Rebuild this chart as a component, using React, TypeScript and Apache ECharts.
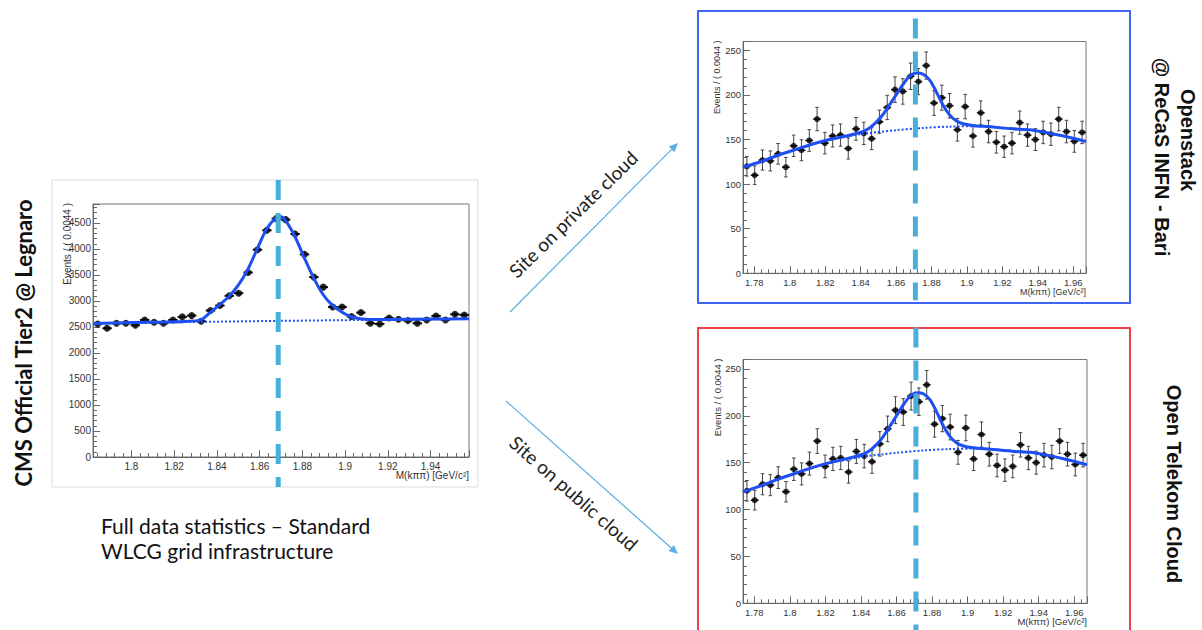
import { useEffect, useRef } from "react";
import * as echarts from "echarts";

// ---------- data ----------
const BIN_WIDTH = 0.0044;
const X_TICK_STEP = 0.02;

// Left plot: CMS Official Tier2 @ Legnaro (full statistics)
const leftXRange = [1.782, 1.958];
const leftYMax = 4865;
const leftYStep = 500;
const leftCounts = [
  2559, 2475, 2571, 2571, 2533, 2636, 2591, 2571, 2636, 2694, 2719, 2610, 2816, 2912,
  3099, 3150, 3549, 3986, 4359, 4584, 4564, 4288, 3896, 3459, 3266, 2886, 2886, 2700,
  2777, 2571, 2559, 2674, 2649, 2623, 2571, 2636, 2713, 2636, 2745, 2732,
];
const leftFitX = [
  1.782, 1.8, 1.815, 1.825, 1.8324, 1.8369, 1.8412, 1.8456, 1.8501, 1.8544, 1.8587,
  1.8632, 1.8676, 1.8695, 1.8719, 1.8764, 1.8807, 1.8851, 1.8896, 1.8939, 1.8984,
  1.9027, 1.9071, 1.9116, 1.92, 1.94, 1.958,
];
const leftFitY = [
  2565, 2585, 2596, 2606, 2636, 2780, 2925, 3086, 3311, 3600, 3986, 4380, 4600, 4625,
  4560, 4250, 3850, 3460, 3130, 2925, 2790, 2700, 2660, 2645, 2645, 2652, 2660,
];
const leftBkgX = [1.782, 1.87, 1.958];
const leftBkgY = [2570, 2618, 2655];
const leftPeakLine = [1.8687];

// Right plots: Openstack @ ReCaS / Open Telekom Cloud (same result)
const rightXRange = [1.7736, 1.9672];
const rightYMax = 260;
const rightYStep = 50;
const rightCounts = [
  120, 110, 127, 126, 134, 119, 143, 138, 149, 173, 146, 154, 155, 140, 162, 157, 151,
  170, 186, 206, 204, 221, 215, 233, 191, 197, 188, 161, 187, 154, 180, 159, 147, 142,
  146, 169, 155, 150, 158, 156, 173, 159, 148, 158,
];
const rightFitX = [
  1.7736, 1.7848, 1.7942, 1.8036, 1.813, 1.8224, 1.8318, 1.8412, 1.845, 1.8488, 1.8525,
  1.8563, 1.86, 1.8638, 1.8676, 1.8713, 1.8751, 1.8789, 1.8826, 1.8864, 1.8901, 1.8939,
  1.8977, 1.9033, 1.9127, 1.9258, 1.9352, 1.9446, 1.954, 1.9672,
];
const rightFitY = [
  119, 126, 133, 139, 145, 150, 154, 159, 163, 169.5, 177.8, 189, 200, 211.5, 220.8,
  224.6, 223.5, 217, 204, 189, 177.8, 171, 167.7, 165.8, 164.3, 162, 161, 158, 154.2,
  147.8,
];
const rightBkgX = [1.7736, 1.8, 1.82, 1.84, 1.86, 1.875, 1.89, 1.905, 1.92, 1.94, 1.9672];
const rightBkgY = [118.5, 137, 148.5, 156, 160.5, 163, 164.5, 165, 163.5, 159.5, 148];
const rightPeakLine = [1.8709];

// ---------- styles ----------
const FIT_COLOR = "#1e4ff0";
const PEAK_COLOR = "#48b0d8";
const ARROW_COLOR = "#5aaee0";
const AXIS_COLOR = "#666";

const plots = [
  {
    grid: { left: 93, top: 204, width: 376, height: 253 },
    xRange: leftXRange, yMax: leftYMax, yStep: leftYStep, counts: leftCounts,
    fitX: leftFitX, fitY: leftFitY, bkgX: leftBkgX, bkgY: leftBkgY, peak: leftPeakLine,
    font: 10, marker: 7, hBar: 2, vBar: 1, cap: 0, extTop: 24, extBottom: 30,
    titleFont: 10,
  },
  {
    grid: { left: 743, top: 41.5, width: 343, height: 231.8 },
    xRange: rightXRange, yMax: rightYMax, yStep: rightYStep, counts: rightCounts,
    fitX: rightFitX, fitY: rightFitY, bkgX: rightBkgX, bkgY: rightBkgY, peak: rightPeakLine,
    font: 9.5, marker: 6, hBar: 1.5, vBar: 1, cap: 1.8, extTop: 23, extBottom: 27,
    titleFont: 9,
  },
  {
    grid: { left: 743, top: 359.5, width: 344, height: 243.8 },
    xRange: rightXRange, yMax: rightYMax, yStep: rightYStep, counts: rightCounts,
    fitX: rightFitX, fitY: rightFitY, bkgX: rightBkgX, bkgY: rightBkgY, peak: rightPeakLine,
    font: 9.5, marker: 6, hBar: 1.5, vBar: 1, cap: 1.8, extTop: 32, extBottom: 40,
    titleFont: 9.5,
  },
];

const fmt = (step: number, dec: number) => (v: number) => {
  const k = v / step;
  return Math.abs(k - Math.round(k)) < 1e-6 ? String(Number(v.toFixed(dec))) : "";
};

function text(x: number, y: number, t: string, font: string, align: string, rotation = 0, fill = "#111") {
  return {
    type: "text",
    x,
    y,
    rotation,
    silent: true,
    style: {
      text: t,
      font,
      fill,
      align,
      verticalAlign: "middle",
      textAlign: align,
      textVerticalAlign: "middle",
    },
  };
}

function arrow(x1: number, y1: number, x2: number, y2: number, color: string) {
  const dx = x2 - x1, dy = y2 - y1, L = Math.hypot(dx, dy);
  const ux = dx / L, uy = dy / L;
  const hl = 9, hw = 4;
  const bx = x2 - ux * hl, by = y2 - uy * hl;
  return [
    { type: "line", silent: true, shape: { x1, y1, x2: bx, y2: by }, style: { stroke: color, lineWidth: 1.2 } },
    {
      type: "polygon",
      silent: true,
      shape: { points: [[x2, y2], [bx - uy * hw, by + ux * hw], [bx + uy * hw, by - ux * hw]] },
      style: { fill: color },
    },
  ];
}

export default function App() {
  const ref = useRef<HTMLDivElement>(null);

  useEffect(() => {
    if (!ref.current) return;
    const chart = echarts.init(ref.current, null, { renderer: "svg" });

    const grids: any[] = [];
    const xAxes: any[] = [];
    const yAxes: any[] = [];
    const series: any[] = [];
    const graphics: any[] = [];

    plots.forEach((p, i) => {
      grids.push({
        ...p.grid,
        show: true,
        borderColor: "#777",
        borderWidth: 1,
        backgroundColor: "transparent",
        containLabel: false,
        outerBoundsMode: "none",
      });
      const tickCommon = {
        axisLine: { show: true, onZero: false, lineStyle: { color: AXIS_COLOR } },
        axisTick: { show: true, inside: true, length: 7, lineStyle: { color: AXIS_COLOR } },
        minorTick: { show: true, splitNumber: 5, length: 4, lineStyle: { color: AXIS_COLOR } },
        splitLine: { show: false },
        minorSplitLine: { show: false },
      };
      xAxes.push({
        type: "value",
        gridIndex: i,
        min: p.xRange[0],
        max: p.xRange[1],
        minInterval: X_TICK_STEP,
        maxInterval: X_TICK_STEP,
        splitNumber: 9,
        ...tickCommon,
        axisLabel: {
          formatter: fmt(X_TICK_STEP, 2),
          color: "#333",
          fontSize: p.font,
          fontFamily: "Liberation Sans",
          margin: 4,
        },
      });
      yAxes.push({
        type: "value",
        gridIndex: i,
        min: 0,
        max: p.yMax,
        minInterval: p.yStep,
        maxInterval: p.yStep,
        splitNumber: 9,
        ...tickCommon,
        axisLabel: {
          formatter: fmt(p.yStep, 0),
          color: "#333",
          fontSize: p.font,
          fontFamily: "Liberation Sans",
          margin: 2,
        },
      });

      const half = BIN_WIDTH / 2;
      const centers = p.counts.map((_, k) => p.xRange[0] + (k + 0.5) * BIN_WIDTH);
      const errData = p.counts.map((c, k) => [centers[k], c, Math.sqrt(c)]);
      const hBar = p.hBar, vBar = p.vBar, cap = p.cap;

      series.push({
        type: "custom",
        xAxisIndex: i,
        yAxisIndex: i,
        silent: true,
        z: 2,
        data: errData,
        renderItem: (_params: any, api: any) => {
          const x = api.value(0), y = api.value(1), e = api.value(2);
          const l = api.coord([x - half, y]);
          const r = api.coord([x + half, y]);
          const t = api.coord([x, y + e]);
          const b = api.coord([x, y - e]);
          const children: any[] = [
            { type: "line", shape: { x1: l[0], y1: l[1], x2: r[0], y2: r[1] }, style: { stroke: "#111", lineWidth: hBar } },
            { type: "line", shape: { x1: t[0], y1: t[1], x2: b[0], y2: b[1] }, style: { stroke: "#444", lineWidth: vBar } },
          ];
          if (cap > 0) {
            children.push(
              { type: "line", shape: { x1: t[0] - cap, y1: t[1], x2: t[0] + cap, y2: t[1] }, style: { stroke: "#444", lineWidth: 1 } },
              { type: "line", shape: { x1: b[0] - cap, y1: b[1], x2: b[0] + cap, y2: b[1] }, style: { stroke: "#444", lineWidth: 1 } },
            );
          }
          return { type: "group", children };
        },
      });

      series.push({
        type: "scatter",
        xAxisIndex: i,
        yAxisIndex: i,
        silent: true,
        symbol: "circle",
        symbolSize: p.marker,
        itemStyle: { color: "#000" },
        z: 3,
        data: p.counts.map((c, k) => [centers[k], c]),
      });

      series.push({
        type: "line",
        xAxisIndex: i,
        yAxisIndex: i,
        silent: true,
        showSymbol: false,
        smooth: 0.3,
        z: 4,
        lineStyle: { color: FIT_COLOR, width: 2, type: [2, 2] },
        data: p.bkgX.map((x, k) => [x, p.bkgY[k]]),
      });

      series.push({
        type: "line",
        xAxisIndex: i,
        yAxisIndex: i,
        silent: true,
        showSymbol: false,
        smooth: 0.3,
        z: 5,
        lineStyle: { color: FIT_COLOR, width: 3 },
        data: p.fitX.map((x, k) => [x, p.fitY[k]]),
      });

      const extTop = p.extTop, extBottom = p.extBottom;
      series.push({
        type: "custom",
        xAxisIndex: i,
        yAxisIndex: i,
        silent: true,
        clip: false,
        z: 20,
        data: p.peak.map((x) => [x, 0]),
        renderItem: (params: any, api: any) => {
          const pt = api.coord([api.value(0), 0]);
          const cs = params.coordSys;
          return {
            type: "line",
            shape: { x1: pt[0], y1: cs.y - extTop, x2: pt[0], y2: cs.y + cs.height + extBottom },
            style: { stroke: PEAK_COLOR, lineWidth: 5, lineDash: [20, 13] },
          };
        },
      });

      // axis titles
      const g = p.grid;
      graphics.push(
        text(g.left - 26, g.top - 1, "Events / ( 0.0044 )", `${p.titleFont}px "Liberation Sans"`, "right", Math.PI / 2, "#333"),
      );
      graphics.push(
        text(g.left + g.width, g.top + g.height + 18.5, "M(kππ) [GeV/c²]", `${p.titleFont}px "Liberation Sans"`, "right", 0, "#333"),
      );
    });

    // panels
    graphics.push(
      { type: "rect", silent: true, shape: { x: 52, y: 180, width: 426, height: 307 }, style: { fill: "none", stroke: "#dcdcdc", lineWidth: 1 } },
      { type: "rect", silent: true, shape: { x: 698, y: 11, width: 432, height: 292 }, style: { fill: "none", stroke: "#3e64f0", lineWidth: 2 } },
      { type: "rect", silent: true, shape: { x: 698, y: 328, width: 432, height: 320 }, style: { fill: "none", stroke: "#f0404a", lineWidth: 2 } },
    );

    // labels
    graphics.push(
      text(23, 343, "CMS Official Tier2 @ Legnaro", 'bold 22px Lato', "center", Math.PI / 2),
      text(1188, 140, "Openstack", 'bold 20px "Liberation Sans"', "center", -Math.PI / 2),
      text(1162, 157, "@ ReCaS INFN - Bari", 'bold 20px "Liberation Sans"', "center", -Math.PI / 2),
      text(1174, 484, "Open Telekom Cloud", 'bold 20px "Liberation Sans"', "center", -Math.PI / 2),
      text(101, 525, "Full data statistics – Standard", '21px Lato', "left"),
      text(101, 550, "WLCG grid infrastructure", '21px Lato', "left"),
      text(573, 214, "Site on private cloud", '19px Lato', "center", 0.775, "#222"),
      text(574, 493, "Site on public cloud", '19px Lato', "center", -0.72, "#222"),
      ...arrow(510, 312, 678, 143, ARROW_COLOR),
      ...arrow(506, 401, 678, 554, ARROW_COLOR),
    );

    chart.setOption({
      animation: false,
      backgroundColor: "#fff",
      grid: grids,
      xAxis: xAxes,
      yAxis: yAxes,
      series,
      graphic: { elements: graphics },
    });

    return () => chart.dispose();
  }, []);

  return (
    <div
      ref={ref}
      style={{ position: "absolute", left: 0, top: 0, width: 1202, height: 630 }}
    />
  );
}
